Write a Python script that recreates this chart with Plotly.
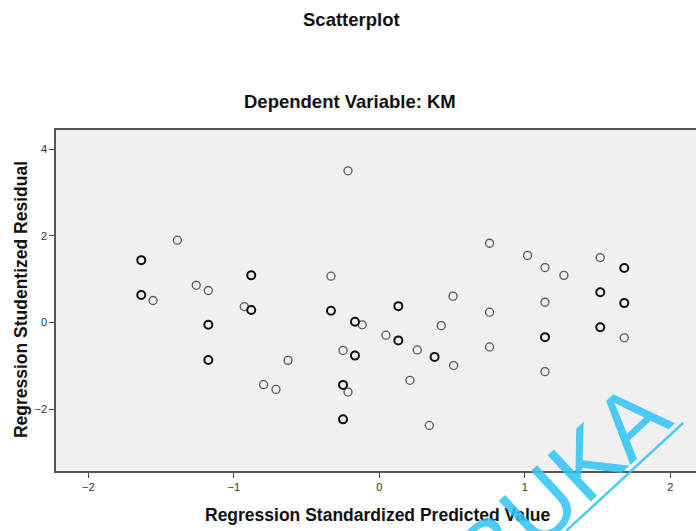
import plotly.graph_objects as go

# Regression Standardized Predicted Value
x_pred = [-1.636, -1.388, -1.636, -1.555, -1.258, -1.175, -1.175, -1.175,
          -0.215, -0.880, -0.332, -0.928, -0.880, -0.332, 0.131, 0.507,
          -0.167, -0.117, 0.046, 0.131, -0.249, -0.167, 0.261, 0.380,
          0.426, 0.511, -0.627, -0.795, -0.710, -0.249, -0.215, 0.211,
          -0.249, 0.344, 0.758, 1.019, 1.139, 1.269, 1.519, 1.684,
          1.519, 1.684, 1.139, 0.758, 1.139, 1.519, 1.684, 0.758, 1.139]
# Regression Studentized Residual
y_resid = [1.44, 1.90, 0.635, 0.51, 0.86, 0.74, -0.05, -0.86,
           3.50, 1.09, 1.07, 0.37, 0.29, 0.275, 0.38, 0.61,
           0.02, -0.05, -0.29, -0.41, -0.64, -0.76, -0.63, -0.79,
           -0.07, -0.99, -0.87, -1.43, -1.54, -1.435, -1.60, -1.33,
           -2.23, -2.37, 1.83, 1.55, 1.27, 1.09, 1.50, 1.26,
           0.70, 0.45, 0.47, 0.24, -0.335, -0.105, -0.35, -0.56, -1.13]
# number of overlapping cases at each point
n_cases = [2, 1, 2, 1, 1, 1, 2, 2,
           1, 2, 1, 1, 2, 2, 2, 1,
           2, 1, 1, 2, 1, 2, 1, 2,
           1, 1, 1, 1, 1, 2, 1, 1,
           2, 1, 1, 1, 1, 1, 1, 2,
           2, 2, 1, 1, 2, 2, 1, 1, 1]

x_ticks = [-2, -1, 0, 1, 2]
y_ticks = [-2, 0, 2, 4]

FONT = "Liberation Sans, Arial, sans-serif"

fig = go.Figure()
for n, col, w in [(1, "#555555", 1.3), (2, "#111111", 2.0)]:
    xs = [x for x, c in zip(x_pred, n_cases) if c == n]
    ys = [y for y, c in zip(y_resid, n_cases) if c == n]
    fig.add_trace(go.Scatter(
        x=xs, y=ys, mode="markers",
        marker=dict(symbol="circle-open", size=8, color=col,
                    line=dict(width=w, color=col)),
        showlegend=False, hoverinfo="x+y"))

fig.update_layout(
    width=696, height=531,
    margin=dict(l=56, r=0, t=130, b=60),
    paper_bgcolor="white", plot_bgcolor="#f0f0f0",
    font=dict(family=FONT, color="#222222"),
    xaxis=dict(range=[-2.222, 2.177], tickvals=x_ticks, ticks="outside",
               ticklen=5, tickwidth=1, tickcolor="#444", showgrid=False,
               zeroline=False, showline=True, linecolor="#555", linewidth=1.5,
               mirror=True, tickfont=dict(size=11, color="#333")),
    yaxis=dict(range=[-3.42, 4.44], tickvals=y_ticks, ticks="outside",
               ticklen=5, tickwidth=1, tickcolor="#444", showgrid=False,
               zeroline=False, showline=True, linecolor="#555", linewidth=1.5,
               mirror=False, tickfont=dict(size=11, color="#333")),
)

anns = [
    dict(text="<b>Scatterplot</b>", x=0.461, y=1.3255, size=18.5),
    dict(text="<b>Dependent Variable: KM</b>", x=0.459, y=1.0825, size=18.5),
    dict(text="<b>Regression Standardized Predicted Value</b>", x=0.503, y=-0.129, size=17.5),
]
for a in anns:
    fig.add_annotation(text=a["text"], x=a["x"], y=a["y"], xref="paper", yref="paper",
                       xanchor="center", yanchor="middle", showarrow=False,
                       font=dict(size=a["size"], family=FONT, color="#111"))
fig.add_annotation(text="<b>Regression Studentized Residual</b>", x=-0.0545, y=0.5015,
                   xref="paper", yref="paper", xanchor="center", yanchor="middle",
                   textangle=-90, showarrow=False,
                   font=dict(size=17.5, family=FONT, color="#111"))

# watermark
fig.add_annotation(text="BUKA", x=0.79, y=-0.04, xref="paper", yref="paper",
                   xanchor="center", yanchor="middle", textangle=-43, showarrow=False,
                   opacity=0.85, font=dict(size=92, family=FONT, color="#2ec4f5"))
fig.add_shape(type="line", xref="paper", yref="paper", x0=0.797, y0=-0.176,
              x1=0.98, y1=0.141, line=dict(color="#2ec4f5", width=2.5), opacity=0.85)

fig.write_html("out.html")
